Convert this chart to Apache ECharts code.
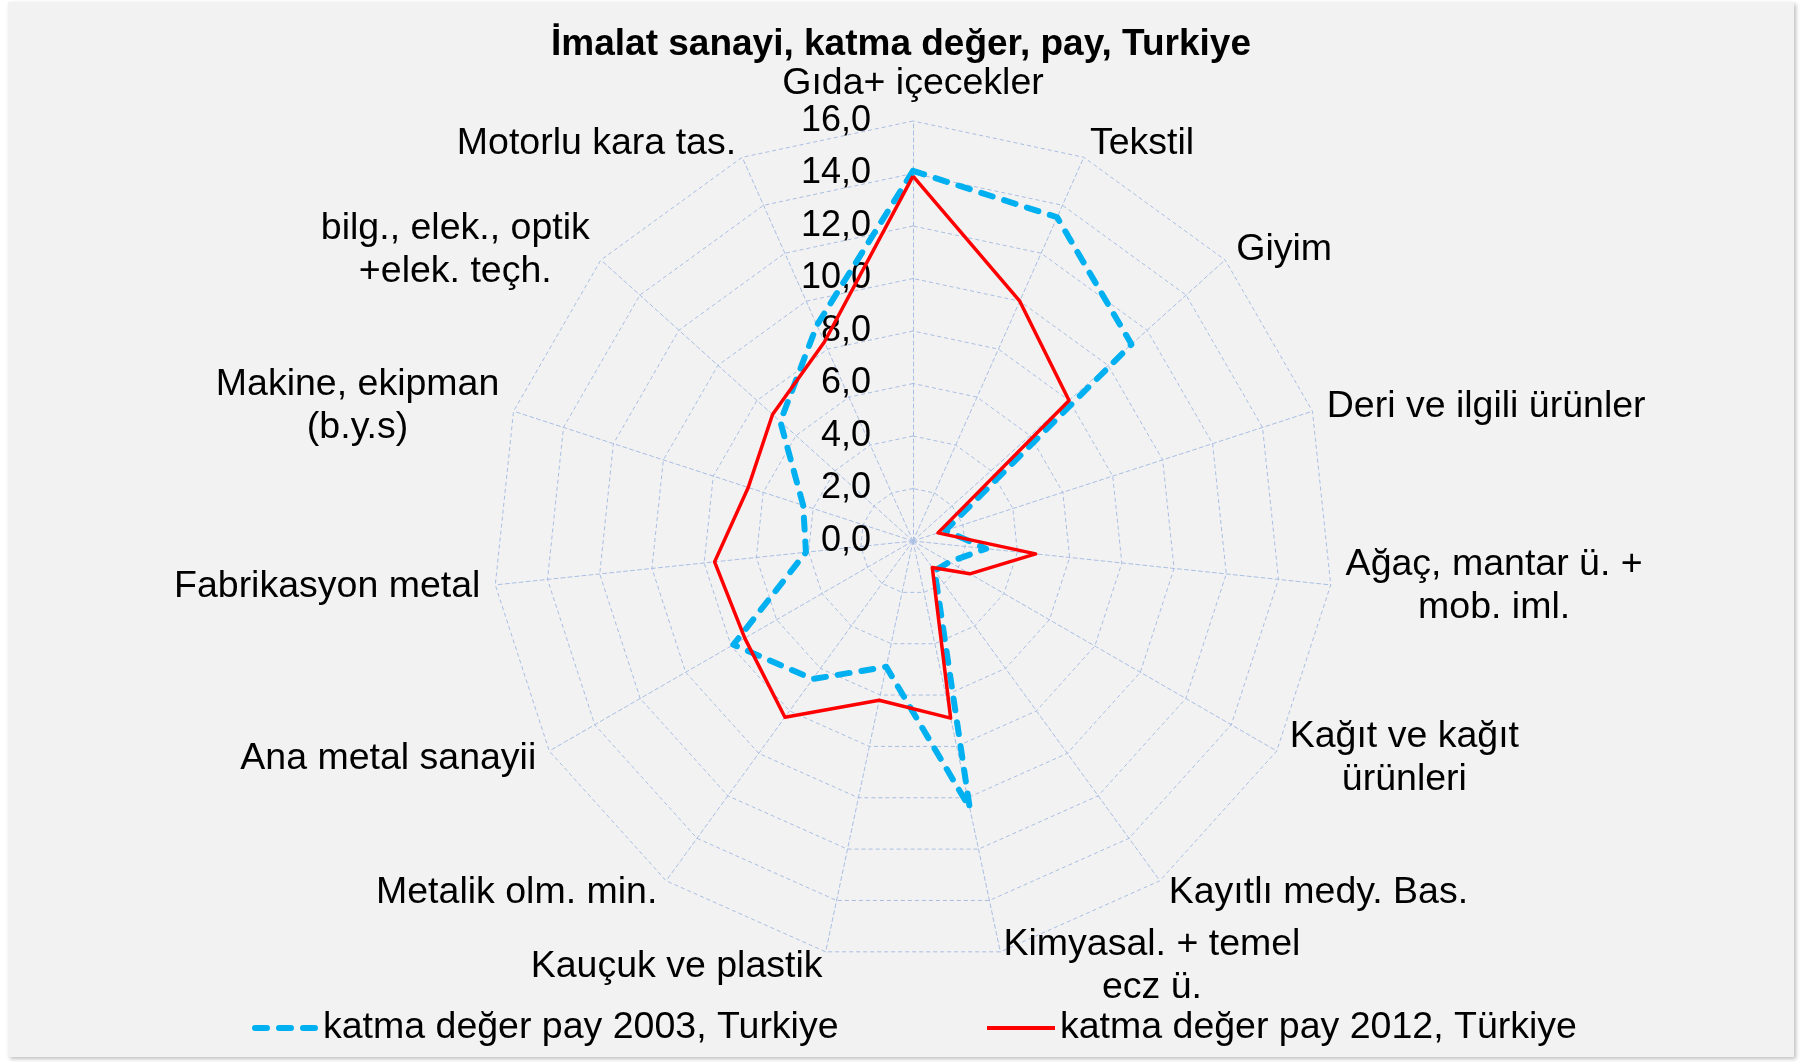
<!DOCTYPE html>
<html>
<head>
<meta charset="utf-8">
<script src="https://cdn.jsdelivr.net/npm/echarts@6/dist/echarts.min.js"></script>
<style>
  html, body { margin: 0; padding: 0; background: #ffffff; }
  #frame {
    position: absolute; left: 8px; top: 2px; width: 1786px; height: 1055px;
    background: #f2f2f2; box-shadow: 2px 2px 4px rgba(0,0,0,0.25);
  }
  #chart { position: absolute; left: 0; top: 0; width: 1805px; height: 1062px; }
</style>
</head>
<body>
<div id="frame"></div>
<div id="chart"></div>
<script>
var categories = [
  'Gıda+ içecekler',
  'Tekstil',
  'Giyim',
  'Deri ve ilgili ürünler',
  'Ağaç, mantar ü. +\nmob. iml.',
  'Kağıt ve kağıt\nürünleri',
  'Kayıtlı medy. Bas.',
  'Kimyasal. + temel\necz ü.',
  'Kauçuk ve plastik',
  'Metalik olm. min.',
  'Ana metal sanayii',
  'Fabrikasyon metal',
  'Makine, ekipman\n(b.y.s)',
  'bilg., elek., optik\n+elek. teçh.',
  'Motorlu kara tas.'
];
var seriesNames = ['katma değer pay 2003, Turkiye', 'katma değer pay 2012, Türkiye'];
var values2003 = [14.1, 13.5, 11.2, 1.3, 2.8, 1.6, 1.4, 10.4, 4.9, 6.5, 7.9, 4.1, 4.4, 6.8, 9.0];
var values2012 = [13.9, 10.0, 8.0, 1.0, 4.7, 2.5, 1.25, 6.9, 6.2, 8.3, 7.4, 7.6, 6.6, 7.2, 8.3];
var axisMax = 16;
var axisStep = 2;

var font = '"Liberation Sans", Arial, sans-serif';
var gridColor = '#a9bee3';

// echarts radar runs counter-clockwise, the original goes clockwise:
// keep the first axis on top and reverse the rest
var order = [0];
for (var k = categories.length - 1; k > 0; k--) order.push(k);
function reorder(arr) {
  return order.map(function (i) { return arr[i]; });
}

var chart = echarts.init(document.getElementById('chart'));

var indicators = order.map(function (i, pos) {
  var ind = { name: categories[i], min: 0, max: axisMax };
  if (pos > 0) {
    ind.axisLabel = { show: false };
  }
  return ind;
});

var option = {
  backgroundColor: 'transparent',
  title: {
    text: 'İmalat sanayi, katma değer, pay, Turkiye',
    left: 896,
    textAlign: 'center',
    top: 21,
    textStyle: { fontFamily: font, fontSize: 37, fontWeight: 'bold', color: '#000' }
  },
  legend: [{
    data: [{
      name: seriesNames[0],
      icon: 'path://M3,0h12a3,3 0 0 1 0,6h-12a3,3 0 0 1 0,-6z M27,0h12a3,3 0 0 1 0,6h-12a3,3 0 0 1 0,-6z M51,0h12a3,3 0 0 1 0,6h-12a3,3 0 0 1 0,-6z'
    }],
    left: 247,
    top: 1004,
    itemWidth: 66,
    itemHeight: 7,
    selectedMode: false,
    itemStyle: { borderWidth: 0 },
    textStyle: { fontFamily: font, fontSize: 37.5, color: '#000' }
  }, {
    data: [{ name: seriesNames[1], icon: 'rect' }],
    left: 982,
    top: 1004,
    itemWidth: 68,
    itemHeight: 4,
    selectedMode: false,
    itemStyle: { borderWidth: 0 },
    textStyle: { fontFamily: font, fontSize: 37.5, color: '#000' }
  }],
  radar: {
    center: [913, 541],
    radius: 420,
    startAngle: 90,
    shape: 'polygon',
    splitNumber: axisMax / axisStep,
    indicator: indicators,
    nameGap: 15,
    axisName: {
      color: '#000',
      fontFamily: font,
      fontSize: 37.5,
      formatter: function (name) {
        return name.split('\n').map(function (l) { return '{c|' + l + '}'; }).join('\n');
      },
      rich: {
        c: { fontFamily: font, fontSize: 37.5, color: '#000', align: 'center', lineHeight: 43 }
      }
    },
    axisLabel: {
      show: true,
      margin: 42,
      fontFamily: font,
      fontSize: 36,
      color: '#000',
      formatter: function (v) { return v.toFixed(1).replace('.', ','); }
    },
    axisTick: { show: false },
    axisLine: { lineStyle: { color: gridColor, width: 1, type: [4, 3] } },
    splitLine: { lineStyle: { color: gridColor, width: 1, type: [4, 3] } },
    splitArea: { show: false }
  },
  series: [{
    type: 'radar',
    silent: true,
    symbol: 'none',
    data: [{
      name: seriesNames[0],
      value: reorder(values2003),
      itemStyle: { color: '#00b0f0' },
      lineStyle: { color: '#00b0f0', width: 6, type: [12, 12], cap: 'round' }
    }, {
      name: seriesNames[1],
      value: reorder(values2012),
      itemStyle: { color: '#ff0000' },
      lineStyle: { color: '#ff0000', width: 3.5, type: 'solid' }
    }]
  }]
};

chart.setOption(option);
window.addEventListener('resize', function () { chart.resize(); });
</script>
</body>
</html>
